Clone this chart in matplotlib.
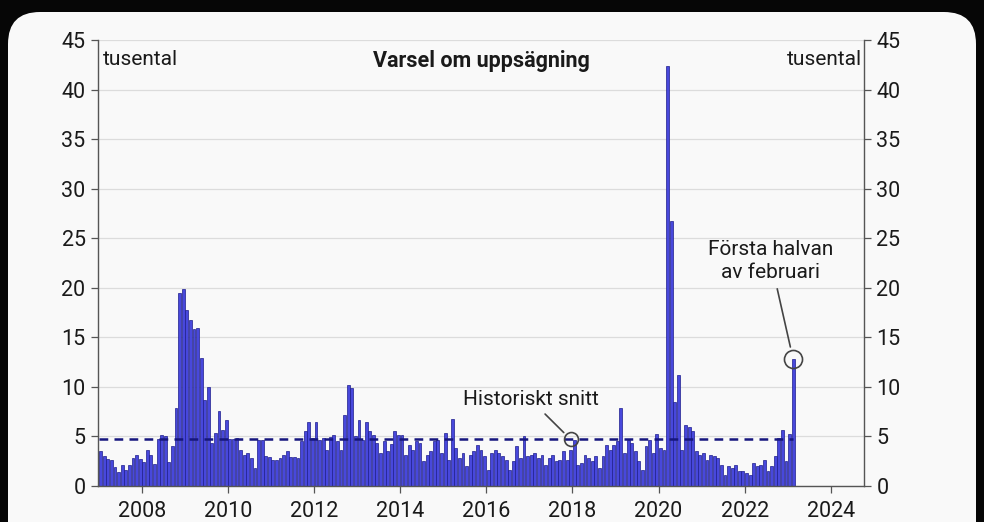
import numpy as np
import matplotlib.pyplot as plt
from matplotlib.patches import FancyBboxPatch

plt.rcParams['font.family'] = ['Roboto', 'DejaVu Sans']

# Varsel om uppsägning, tusental per månad (jan 2007 - feb 2023)
v2007 = [3.5, 3.0, 2.7, 2.6, 1.9, 1.4, 2.1, 1.6, 2.1, 2.8, 3.1, 2.7]
v2008 = [2.4, 3.6, 3.1, 2.2, 4.7, 5.1, 5.0, 2.4, 4.0, 7.9, 19.5, 19.9]
v2009 = [17.8, 16.8, 15.8, 15.9, 12.9, 8.7, 10.0, 4.3, 5.3, 7.6, 5.7, 6.7]
v2010 = [4.7, 4.7, 4.8, 3.6, 3.1, 3.3, 2.8, 1.8, 4.6, 4.6, 3.0, 2.9]
v2011 = [2.6, 2.6, 2.8, 3.1, 3.5, 2.9, 2.9, 2.8, 4.5, 5.5, 6.5, 4.8]
v2012 = [6.5, 4.6, 4.8, 3.6, 4.9, 5.1, 4.5, 3.6, 7.2, 10.2, 9.9, 5.0]
v2013 = [6.7, 4.6, 6.5, 5.5, 5.1, 4.3, 3.3, 4.5, 3.5, 4.2, 5.5, 5.1]
v2014 = [5.1, 3.1, 4.1, 3.6, 4.5, 4.3, 2.5, 3.1, 3.5, 4.5, 4.6, 3.3]
v2015 = [5.3, 2.6, 6.8, 3.8, 2.8, 3.3, 2.0, 3.1, 3.5, 4.1, 3.6, 3.0]
v2016 = [1.6, 3.3, 3.6, 3.3, 3.0, 2.6, 1.6, 2.5, 4.0, 2.8, 5.0, 3.0]
v2017 = [3.1, 3.3, 2.8, 3.1, 2.1, 2.8, 3.1, 2.5, 2.6, 3.5, 2.6, 3.6]
v2018 = [4.6, 2.1, 2.3, 3.1, 2.8, 2.5, 3.0, 1.8, 3.0, 4.1, 3.6, 4.1]
v2019 = [4.5, 7.9, 3.3, 4.6, 4.3, 3.5, 2.5, 1.6, 4.0, 4.6, 3.3, 5.2]
v2020 = [3.8, 3.6, 42.4, 26.7, 8.5, 11.2, 3.6, 6.2, 6.0, 5.5, 3.5, 3.1]
v2021 = [3.3, 2.6, 3.1, 3.0, 2.8, 2.1, 1.1, 2.0, 1.8, 2.1, 1.5, 1.5]
v2022 = [1.3, 1.1, 2.3, 2.0, 2.1, 2.6, 1.5, 2.0, 3.0, 4.8, 5.7, 2.5]
v2023 = [5.2, 12.8]

varsel = np.array(v2007 + v2008 + v2009 + v2010 + v2011 + v2012 + v2013 + v2014
                  + v2015 + v2016 + v2017 + v2018 + v2019 + v2020 + v2021
                  + v2022 + v2023)
months = 2007 + (np.arange(len(varsel)) + 0.5) / 12
snitt = 4.7
x_ticks = list(range(2008, 2025, 2))
y_ticks = list(range(0, 50, 5))

fig = plt.figure(figsize=(9.84, 5.22), dpi=100, facecolor='#060606')
panel = FancyBboxPatch((0.08, -0.4), 9.68, 5.5, boxstyle='round,pad=0,rounding_size=0.32',
                       transform=fig.dpi_scale_trans, facecolor='#f9f9f9', edgecolor='none',
                       zorder=-10)
fig.patches.append(panel)

ax = fig.add_axes([0.0996, 0.069, 0.7784, 0.854])
ax.set_zorder(1)
ax.set_facecolor('#f9f9f9')

ax.bar(months, varsel, width=0.8 / 12, color='#4848dc', edgecolor='#1d1d8c',
       linewidth=0.5, zorder=2)
ax.plot([2007, months[-1]], [snitt, snitt], color='#16167e', lw=1.8,
        ls=(0, (3.5, 2.5)), zorder=3)

ax.set_xlim(2006.98, 2024.77)
ax.set_ylim(0, 45)
ax.set_xticks(x_ticks)
ax.set_yticks(y_ticks)
ax.grid(axis='y', color='#dcdcdc', lw=0.9, zorder=0)
ax.set_axisbelow(True)
for s in ['left', 'right', 'bottom']:
    ax.spines[s].set_color('#555555')
    ax.spines[s].set_linewidth(1.0)
ax.spines['top'].set_visible(False)
ax.tick_params(axis='both', colors='#555555', labelcolor='#1a1a1a', labelsize=15.5,
               length=5, width=0.9)
ax.tick_params(axis='x', pad=6)
ax.tick_params(axis='y', right=True, labelright=True, pad=4)

ax.text(0.006, 0.978, 'tusental', transform=ax.transAxes, ha='left', va='top',
        fontsize=15, color='#1a1a1a')
ax.text(0.997, 0.978, 'tusental', transform=ax.transAxes, ha='right', va='top',
        fontsize=15, color='#1a1a1a')
ax.text(0.5, 0.978, 'Varsel om uppsägning', transform=ax.transAxes, ha='center',
        va='top', fontsize=15.5, fontweight='bold', color='#1a1a1a')

# annotations
ax.plot(months[131], snitt, 'o', ms=10, mfc='none', mec='#444444', mew=1.2, zorder=4)
ax.annotate('Historiskt snitt', xy=(months[131], snitt), xytext=(2017.03, 8.7),
            ha='center', va='center', fontsize=15, color='#1a1a1a',
            arrowprops=dict(arrowstyle='-', color='#444444', lw=1.2, shrinkA=2, shrinkB=7))
ax.plot(months[-1], varsel[-1], 'o', ms=13, mfc='none', mec='#444444', mew=1.2, zorder=4)
ax.annotate('Första halvan\nav februari', xy=(months[-1], varsel[-1]), xytext=(2022.61, 22.7),
            ha='center', va='center', fontsize=15, color='#1a1a1a', linespacing=1.25,
            arrowprops=dict(arrowstyle='-', color='#444444', lw=1.2, shrinkA=3, shrinkB=9))

fig.savefig('out.png', dpi=100, facecolor=fig.get_facecolor())
